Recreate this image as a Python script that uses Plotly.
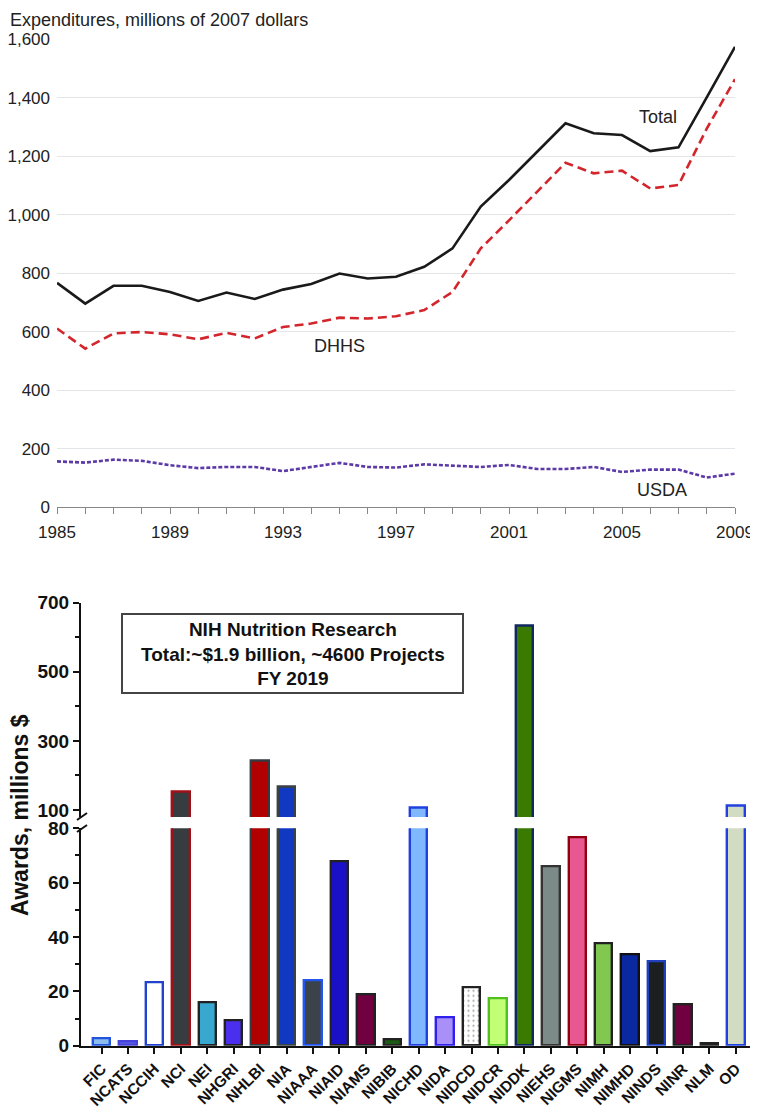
import plotly.graph_objects as go

# The page adds an 8px body margin on every side; size the figure to fit inside it.
PAGE_OFF = 8
W, H = 758 - PAGE_OFF, 1116 - 2 * PAGE_OFF

# ---------------- data: top chart ----------------
years = list(range(1985, 2010))
total = [767, 696, 757, 757, 736, 705, 734, 712, 744, 763, 799, 782, 788, 822,
         885, 1028, 1119, 1216, 1313, 1279, 1273, 1218, 1231, 1402, 1575]
dhhs = [611, 542, 594, 599, 591, 574, 596, 577, 616, 628, 648, 645, 653, 674,
        736, 885, 981, 1079, 1178, 1142, 1151, 1090, 1102, 1295, 1464]
usda = [156, 152, 162, 158, 143, 133, 137, 137, 123, 137, 151, 137, 135, 146,
        142, 137, 144, 130, 130, 137, 120, 128, 128, 101, 114]
year_ticks = [1985, 1989, 1993, 1997, 2001, 2005, 2009]
exp_ticks = [0, 200, 400, 600, 800, 1000, 1200, 1400, 1600]

# ---------------- data: bottom chart ----------------
institutes = ["FIC", "NCATS", "NCCIH", "NCI", "NEI", "NHGRI", "NHLBI", "NIA",
              "NIAAA", "NIAID", "NIAMS", "NIBIB", "NICHD", "NIDA", "NIDCD",
              "NIDCR", "NIDDK", "NIEHS", "NIGMS", "NIMH", "NIMHD", "NINDS",
              "NINR", "NLM", "OD"]
awards = [2.6, 1.7, 23.2, 152, 16.0, 9.5, 244, 168, 24.2, 67.7, 19.0, 2.5,
          107, 10.4, 21.5, 17.6, 632, 66.0, 76.8, 37.5, 33.8, 31.0, 15.4, 0.9, 113]
fills = ["#8cbcec", "#5858e0", "#ffffff", "#353d40", "#38a8d0", "#4a30ee",
         "#b00000", "#1038c0", "#3b4249", "#1a10c8", "#70003f", "#1b5a12",
         "#80b8ff", "#a890f8", "#ffffff", "#c2ff74", "#3a7a00", "#7c8a88",
         "#e85890", "#80c850", "#0a28a0", "#1b1f1f", "#70003f", "#222222",
         "#d2dcc2"]
edges = ["#2255dd", "#4444dd", "#2244cc", "#a01018", "#222222", "#222222",
         "#333a40", "#3a4242", "#2255ee", "#222222", "#222222", "#222222",
         "#2040e0", "#3020f0", "#222222", "#50c020", "#102860", "#333333",
         "#900010", "#222222", "#111111", "#2040c0", "#222222", "#222222",
         "#2040e0"]
patterns = ["" if n != "NIDCD" else "." for n in institutes]
low_ticks = [0, 20, 40, 60, 80]
low_minor = [10, 30, 50, 70]
up_ticks = [100, 300, 500, 700]
up_minor = [200, 400, 600]
BREAK = 80


def fx(p):
    return (p - PAGE_OFF) / W


def fy(p):
    return 1 - (p - PAGE_OFF) / H


FONT = "Liberation Sans, Arial, Helvetica, sans-serif"
idx = list(range(len(institutes)))
awards_upper = [v if v > BREAK else None for v in awards]

fig = go.Figure()

fig.add_trace(go.Scatter(x=years, y=total, mode="lines", xaxis="x", yaxis="y",
                         line=dict(color="#1a1a1a", width=2.6)))
fig.add_trace(go.Scatter(x=years, y=dhhs, mode="lines", xaxis="x", yaxis="y",
                         line=dict(color="#d3252c", width=2.6, dash="9px,5px")))
fig.add_trace(go.Scatter(x=years, y=usda, mode="lines", xaxis="x", yaxis="y",
                         line=dict(color="#5b3aa8", width=2.6, dash="4px,2px")))

for yax, vals in [("y2", awards), ("y3", awards_upper)]:
    fig.add_trace(go.Bar(
        x=idx, y=vals, xaxis="x2", yaxis=yax, width=0.66,
        marker=dict(color=fills, line=dict(color=edges, width=2.4),
                    pattern=dict(shape=patterns, fillmode="overlay",
                                 fgcolor="#555555", size=5, solidity=0.15)),
    ))

tick_font_top = dict(family=FONT, size=17, color="#222222")
bold = dict(family=FONT, color="#111111", weight="bold")

fig.update_layout(
    width=W, height=H, margin=dict(l=0, r=0, t=0, b=0),
    paper_bgcolor="white", plot_bgcolor="white", showlegend=False,
    template="none", bargap=0,
    xaxis=dict(domain=[fx(57), fx(735)], range=[1985, 2009], anchor="y",
               tickmode="array", tickvals=year_ticks, ticks="outside",
               ticklen=6, tickcolor="#888888", tickwidth=1,
               minor=dict(dtick=1, tick0=1985, ticks="outside", ticklen=6,
                          tickcolor="#888888", tickwidth=1, showgrid=False),
               showline=True, linecolor="#888888", linewidth=1,
               showgrid=False, zeroline=False, ticklabelstandoff=4,
               ticklabeloverflow="allow", tickfont=tick_font_top),
    yaxis=dict(domain=[fy(507), fy(39.5)], range=[0, 1600], anchor="x",
               tickmode="array", tickvals=exp_ticks, tickformat=",",
               showgrid=True, gridcolor="#e2e6e8", gridwidth=1,
               zeroline=False, showline=False, ticks="",
               ticklabelstandoff=6, tickfont=tick_font_top),
    xaxis2=dict(domain=[fx(81), fx(757)], range=[-0.78, 24.8], anchor="y2",
                tickmode="array", tickvals=idx, ticktext=institutes,
                tickangle=-45, ticks="outside", ticklen=6, tickwidth=2,
                tickcolor="#111111", showline=True, linecolor="#111111",
                linewidth=2, showgrid=False, zeroline=False,
                ticklabelstandoff=0, tickfont=dict(bold, size=15.5)),
    yaxis2=dict(domain=[fy(1045.7), fy(828.3)], range=[0, 80], anchor="x2",
                tickmode="array", tickvals=low_ticks, ticks="outside",
                ticklen=6, tickwidth=2, tickcolor="#111111",
                minor=dict(tickvals=low_minor, ticks="outside", ticklen=4,
                           tickwidth=2, tickcolor="#111111"),
                showline=True, linecolor="#111111", linewidth=2,
                showgrid=False, zeroline=False, tickfont=dict(bold, size=19)),
    yaxis3=dict(domain=[fy(816.9), fy(602.7)], range=[BREAK, 700], anchor="x2",
                tickmode="array", tickvals=up_ticks, ticks="outside",
                ticklen=6, tickwidth=2, tickcolor="#111111",
                minor=dict(tickvals=up_minor, ticks="outside", ticklen=4,
                           tickwidth=2, tickcolor="#111111"),
                showline=True, linecolor="#111111", linewidth=2,
                showgrid=False, zeroline=False, tickfont=dict(bold, size=19)),
)

# axis break marks and title box (decorations)
fig.add_shape(type="line", xref="paper", yref="paper",
              x0=fx(77), y0=fy(820), x1=fx(87), y1=fy(813),
              line=dict(color="#111111", width=2))
fig.add_shape(type="line", xref="paper", yref="paper",
              x0=fx(77), y0=fy(832), x1=fx(87), y1=fy(825),
              line=dict(color="#111111", width=2))
fig.add_shape(type="rect", xref="paper", yref="paper",
              x0=fx(122), x1=fx(463), y0=fy(693), y1=fy(614),
              line=dict(color="#444444", width=2), fillcolor="white")

fig.add_annotation(xref="paper", yref="paper", x=fx(292.5), y=fy(653.5),
                   xanchor="center", yanchor="middle",
                   text="NIH Nutrition Research<br>Total:~$1.9 billion, ~4600 Projects<br>FY 2019",
                   showarrow=False, align="center", font=dict(bold, size=19))
fig.add_annotation(xref="paper", yref="paper", x=fx(20), y=fy(815),
                   xanchor="center", yanchor="middle",
                   text="Awards, millions $", textangle=-90, showarrow=False,
                   font=dict(bold, size=23))

fig.add_annotation(xref="paper", yref="paper", x=fx(8), y=1,
                   xanchor="left", yanchor="top", showarrow=False,
                   text="Expenditures, millions of 2007 dollars",
                   font=dict(family=FONT, size=18, color="#222222"))
fig.add_annotation(xref="x", yref="y", x=2006.27, y=1334, text="Total",
                   showarrow=False, font=dict(family=FONT, size=18, color="#222222"))
fig.add_annotation(xref="x", yref="y", x=1995.0, y=550, text="DHHS",
                   showarrow=False, font=dict(family=FONT, size=18, color="#222222"))
fig.add_annotation(xref="x", yref="y", x=2006.4, y=57, text="USDA",
                   showarrow=False, font=dict(family=FONT, size=18, color="#222222"))

fig.write_html("out.html")
